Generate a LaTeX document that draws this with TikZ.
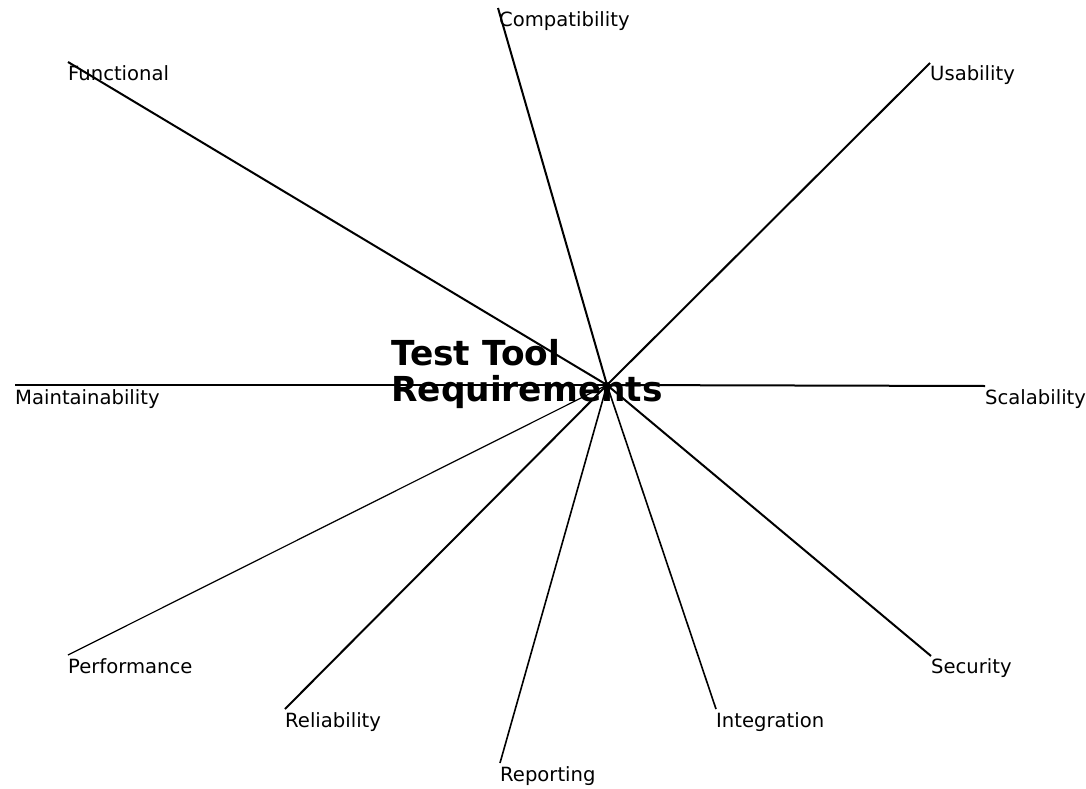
\documentclass[tikz,border=0pt]{standalone}
\usepackage{fontspec}
\setmainfont{DejaVu Sans}
\begin{document}
\begin{tikzpicture}[x=1pt,y=-1pt,
  spoke/.style={draw=black,line width=2pt},
  thinspoke/.style={draw=black,line width=1.2pt},
  lbl/.style={anchor=base west,inner sep=0pt,font=\fontsize{19.6}{22}\selectfont},
  title/.style={anchor=north west,inner sep=0pt,align=left,font=\bfseries\fontsize{34.4}{36}\selectfont}]
\useasboundingbox (0,0) rectangle (1086,789);
\coordinate (c) at (607,385);
\coordinate (pF) at (68,62);
\coordinate (pC) at (498,8);
\coordinate (pU) at (930,63);
\coordinate (pM) at (15,385);
\coordinate (pS) at (985,386);
\coordinate (pP) at (68,655);
\coordinate (pR) at (285,709);
\coordinate (pRe) at (500,763);
\coordinate (pI) at (716,709);
\coordinate (pSe) at (931,656);
\draw[spoke] (c) -- (pF);
\draw[spoke] (c) -- (pC);
\draw[spoke] (c) -- (pU);
\draw[spoke] (c) -- (pM);
\draw[spoke] (c) -- (pS);
\draw[thinspoke] (c) -- (pP);
\draw[spoke] (c) -- (pR);
\draw[thinspoke,line width=1.6pt] (c) -- (pRe);
\draw[thinspoke,line width=1.6pt] (c) -- (pI);
\draw[spoke] (c) -- (pSe);
\node[title] (t) at (391,339) {Test Tool\\Requirements};
\node[lbl] (lF) at (68,81) {Functional};
\node[lbl] (lC) at (499,27) {Compatibility};
\node[lbl] (lU) at (930,81) {Usability};
\node[lbl] (lM) at (15,404) {Maintainability};
\node[lbl] (lS) at (985,404) {Scalability};
\node[lbl] (lP) at (68,673) {Performance};
\node[lbl] (lR) at (285,727) {Reliability};
\node[lbl] (lRe) at (500,781) {Reporting};
\node[lbl] (lI) at (716,727) {Integration};
\node[lbl] (lSe) at (931,673) {Security};
\end{tikzpicture}
\end{document}
